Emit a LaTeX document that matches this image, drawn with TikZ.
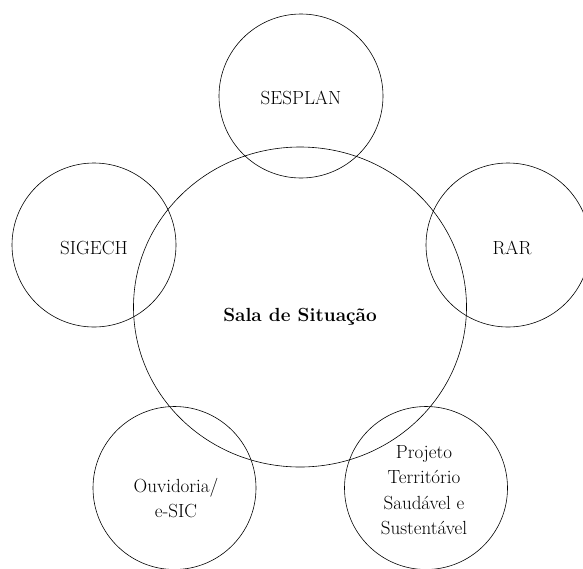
\documentclass[tikz,border=0pt]{standalone}
\usetikzlibrary{shapes.geometric}
\begin{document}
\begin{tikzpicture}[x=1pt,y=-1pt,
  ring/.style={draw=black, line width=0.6pt, circle, inner sep=0pt, minimum size=#1},
  lbl/.style={font=\fontsize{19}{25.5}\selectfont, align=center, inner sep=0pt}]
\useasboundingbox (0,0) rectangle (583,568);
% central circle
\node[draw=black, line width=0.6pt, ellipse, inner sep=0pt, minimum width=333pt, minimum height=320pt] (sala) at (300,307) {};
% satellites
\node[ring=164pt] (sesplan) at (301,96) {};
\node[ring=164pt] (sigech) at (94,245) {};
\node[ring=164pt] (rar) at (508,245) {};
\node[ring=163pt] (ouv) at (174.5,488) {};
\node[ring=163pt] (proj) at (426,488) {};
% texts
\node[lbl, anchor=base] (tsala) at (300,321) {\bfseries Sala de Situação};
\node[lbl, anchor=base] (tsesplan) at (301,104) {SESPLAN};
\node[lbl, anchor=base] (tsigech) at (94,254) {SIGECH};
\node[lbl, anchor=base] (trar) at (512,254) {RAR};
\node[lbl] (touv) at (176,498) {Ouvidoria/\\e-SIC};
\node[lbl] (tproj) at (424,490) {Projeto\\Território\\Saudável e\\Sustentável};
\end{tikzpicture}
\end{document}
